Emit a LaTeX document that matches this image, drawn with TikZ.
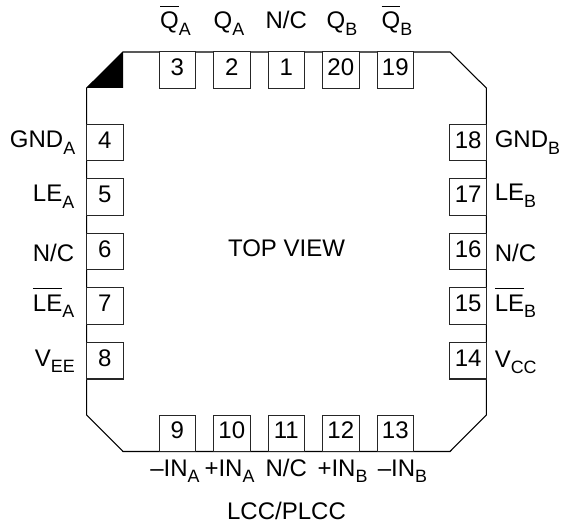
\documentclass[tikz,border=0pt]{standalone}
\usepackage{fontspec}
\setmainfont{Liberation Sans}
\newcommand{\pinsub}[1]{\raisebox{-0.27em}{\fontsize{13.4}{13.4}\selectfont #1}}
\newcommand{\pinbar}[1]{\leavevmode\vbox{\hrule height 0.7pt\kern 4.2pt\hbox{#1}}}
\tikzset{
	pinbox/.style={draw=black!85,fill=white,line width=0.8pt,minimum size=27.4pt,inner sep=0pt,text height=12.9pt,text depth=4.8pt},
	pinlabel/.style={inner sep=0pt,anchor=base},
	pinlabelL/.style={inner sep=0pt,anchor=base east},
	pinlabelR/.style={inner sep=0pt,anchor=base west}
}
\begin{document}
\begin{tikzpicture}[x=0.75pt,y=-0.75pt,font=\fontsize{18}{18}\selectfont]
	\useasboundingbox (0,0) rectangle (561,524);
	
	\draw[black,line width=0.8pt] (123,52) -- (450,52) -- (486.3,88) -- (486.3,415) -- (450,451.5) -- (123,451.5) -- (86.7,415) -- (86.7,88) -- cycle;
	\fill[black] (123,52) -- (123,88) -- (86.7,88) -- cycle;
	
	\node[pinbox] (pin3) at (177.3,70.2) {3};
	\node[pinbox] (pin2) at (231.8,70.2) {2};
	\node[pinbox] (pin1) at (286.3,70.2) {1};
	\node[pinbox] (pin20) at (340.8,70.2) {20};
	\node[pinbox] (pin19) at (395.3,70.2) {19};
	
	\node[pinbox] (pin4) at (104.9,142.7) {4};
	\node[pinbox] (pin5) at (104.9,197.2) {5};
	\node[pinbox] (pin6) at (104.9,251.7) {6};
	\node[pinbox] (pin7) at (104.9,306.2) {7};
	\node[pinbox] (pin8) at (104.9,360.7) {8};
	
	\node[pinbox] (pin18) at (468.1,142.7) {18};
	\node[pinbox] (pin17) at (468.1,197.2) {17};
	\node[pinbox] (pin16) at (468.1,251.7) {16};
	\node[pinbox] (pin15) at (468.1,306.2) {15};
	\node[pinbox] (pin14) at (468.1,360.7) {14};
	
	\node[pinbox] (pin9) at (177.3,433.3) {9};
	\node[pinbox] (pin10) at (231.8,433.3) {10};
	\node[pinbox] (pin11) at (286.3,433.3) {11};
	\node[pinbox] (pin12) at (340.8,433.3) {12};
	\node[pinbox] (pin13) at (395.3,433.3) {13};
	
	\node[pinlabel] (qbarA) at (175.5,29) {\pinbar{Q}\pinsub{A}};
	\node[pinlabel] (qA) at (229,29) {Q\pinsub{A}};
	\node[pinlabel] (ncT) at (286.3,29) {N/C};
	\node[pinlabel] (qB) at (342,29) {Q\pinsub{B}};
	\node[pinlabel] (qbarB) at (397,29) {\pinbar{Q}\pinsub{B}};
	
	\node[pinlabelL] (gndA) at (75.5,148) {GND\pinsub{A}};
	\node[pinlabelL] (leA) at (74.5,202) {LE\pinsub{A}};
	\node[pinlabelL] (ncL) at (74.5,262) {N/C};
	\node[pinlabelL] (lebarA) at (74.5,311) {\pinbar{LE}\pinsub{A}};
	\node[pinlabelL] (vee) at (75,366) {V\pinsub{EE}};
	
	\node[pinlabelR] (gndB) at (494.5,148) {GND\pinsub{B}};
	\node[pinlabelR] (leB) at (494.5,201) {LE\pinsub{B}};
	\node[pinlabelR] (ncR) at (494.5,262) {N/C};
	\node[pinlabelR] (lebarB) at (494.5,311) {\pinbar{LE}\pinsub{B}};
	\node[pinlabelR] (vcc) at (494.5,367) {V\pinsub{CC}};
	
	\node[pinlabel] (inmA) at (175,476) {--IN\pinsub{A}};
	\node[pinlabel] (inpA) at (229.5,476) {+IN\pinsub{A}};
	\node[pinlabel] (ncB) at (286.3,476) {N/C};
	\node[pinlabel] (inpB) at (342.5,476) {+IN\pinsub{B}};
	\node[pinlabel] (inmB) at (402.5,476) {--IN\pinsub{B}};
	
	\node[pinlabel] (topview) at (286.5,257) {TOP VIEW};
	\node[pinlabel] (package) at (286.5,519) {LCC/PLCC};
\end{tikzpicture}
\end{document}
